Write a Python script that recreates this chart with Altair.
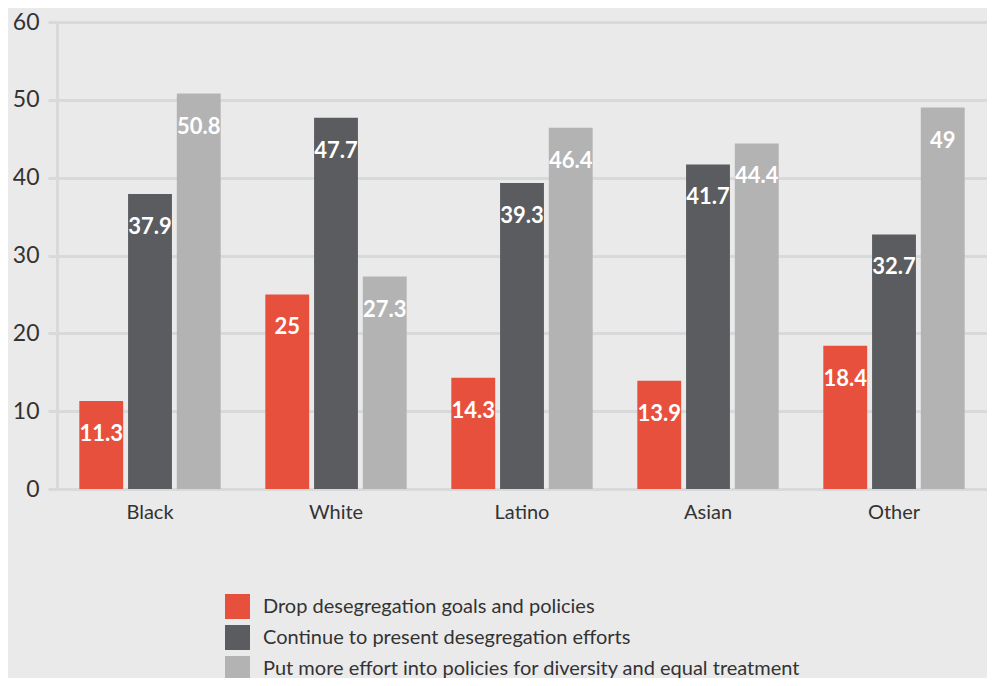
import altair as alt
import pandas as pd

groups = ["Black", "White", "Latino", "Asian", "Other"]
series = [
    "Drop desegregation goals and policies",
    "Continue to present desegregation efforts",
    "Put more effort into policies for diversity and equal treatment",
]
drop_vals = [11.3, 25, 14.3, 13.9, 18.4]
continue_vals = [37.9, 47.7, 39.3, 41.7, 32.7]
more_vals = [50.8, 27.3, 46.4, 44.4, 49]
colors = ["#e8503e", "#5a5c5f", "#b3b3b3"]

rows = []
for s, vals in zip(series, [drop_vals, continue_vals, more_vals]):
    for g, v in zip(groups, vals):
        rows.append({"group": g, "series": s, "value": v, "label": f"{v:g}"})
df = pd.DataFrame(rows)

FONT = "Lato"

x = alt.X("group:N", sort=groups, title=None,
          scale=alt.Scale(paddingInner=0.24, paddingOuter=0.12),
          axis=alt.Axis(labelAngle=0, labelFontSize=20, labelColor="#333333",
                        labelFont=FONT, ticks=False, domain=False, labelPadding=13))
xo = alt.XOffset("series:N", sort=series, scale=alt.Scale(paddingInner=0.1))
y = alt.Y("value:Q", title=None,
          scale=alt.Scale(domain=[0, 60], nice=False),
          axis=alt.Axis(values=[0, 10, 20, 30, 40, 50, 60], labelFontSize=23,
                        labelColor="#333333", labelFont=FONT, tickSize=9,
                        tickColor="#d8d9db", tickWidth=3, gridColor="#d8d9db",
                        gridWidth=3, domainColor="#d8d9db", domainWidth=3,
                        labelPadding=9))

bars = alt.Chart(df).mark_bar().encode(
    x=x, xOffset=xo, y=y,
    color=alt.Color("series:N", sort=series,
                    scale=alt.Scale(domain=series, range=colors),
                    legend=alt.Legend(title=None, orient="none", legendX=168,
                                      legendY=572, symbolType="square",
                                      symbolSize=625, symbolStrokeWidth=0,
                                      labelFontSize=20, labelFont=FONT,
                                      labelColor="#333333", labelLimit=900,
                                      rowPadding=6, labelOffset=13)),
)

text = alt.Chart(df).mark_text(color="white", fontWeight="bold", fontSize=22,
                               font=FONT, baseline="middle", dy=33).encode(
    x=alt.X("group:N", sort=groups), xOffset=xo,
    y=alt.Y("value:Q"), text="label:N")

chart = (bars + text).properties(
    width=930, height=467,
    background="#eaeaea",
    padding={"left": 49, "top": 14, "right": 0, "bottom": 189},
    autosize=alt.AutoSizeParams(type="none"),
).configure_view(stroke=None)

chart.save("out.html", embed_options={"renderer": "svg", "actions": False})
